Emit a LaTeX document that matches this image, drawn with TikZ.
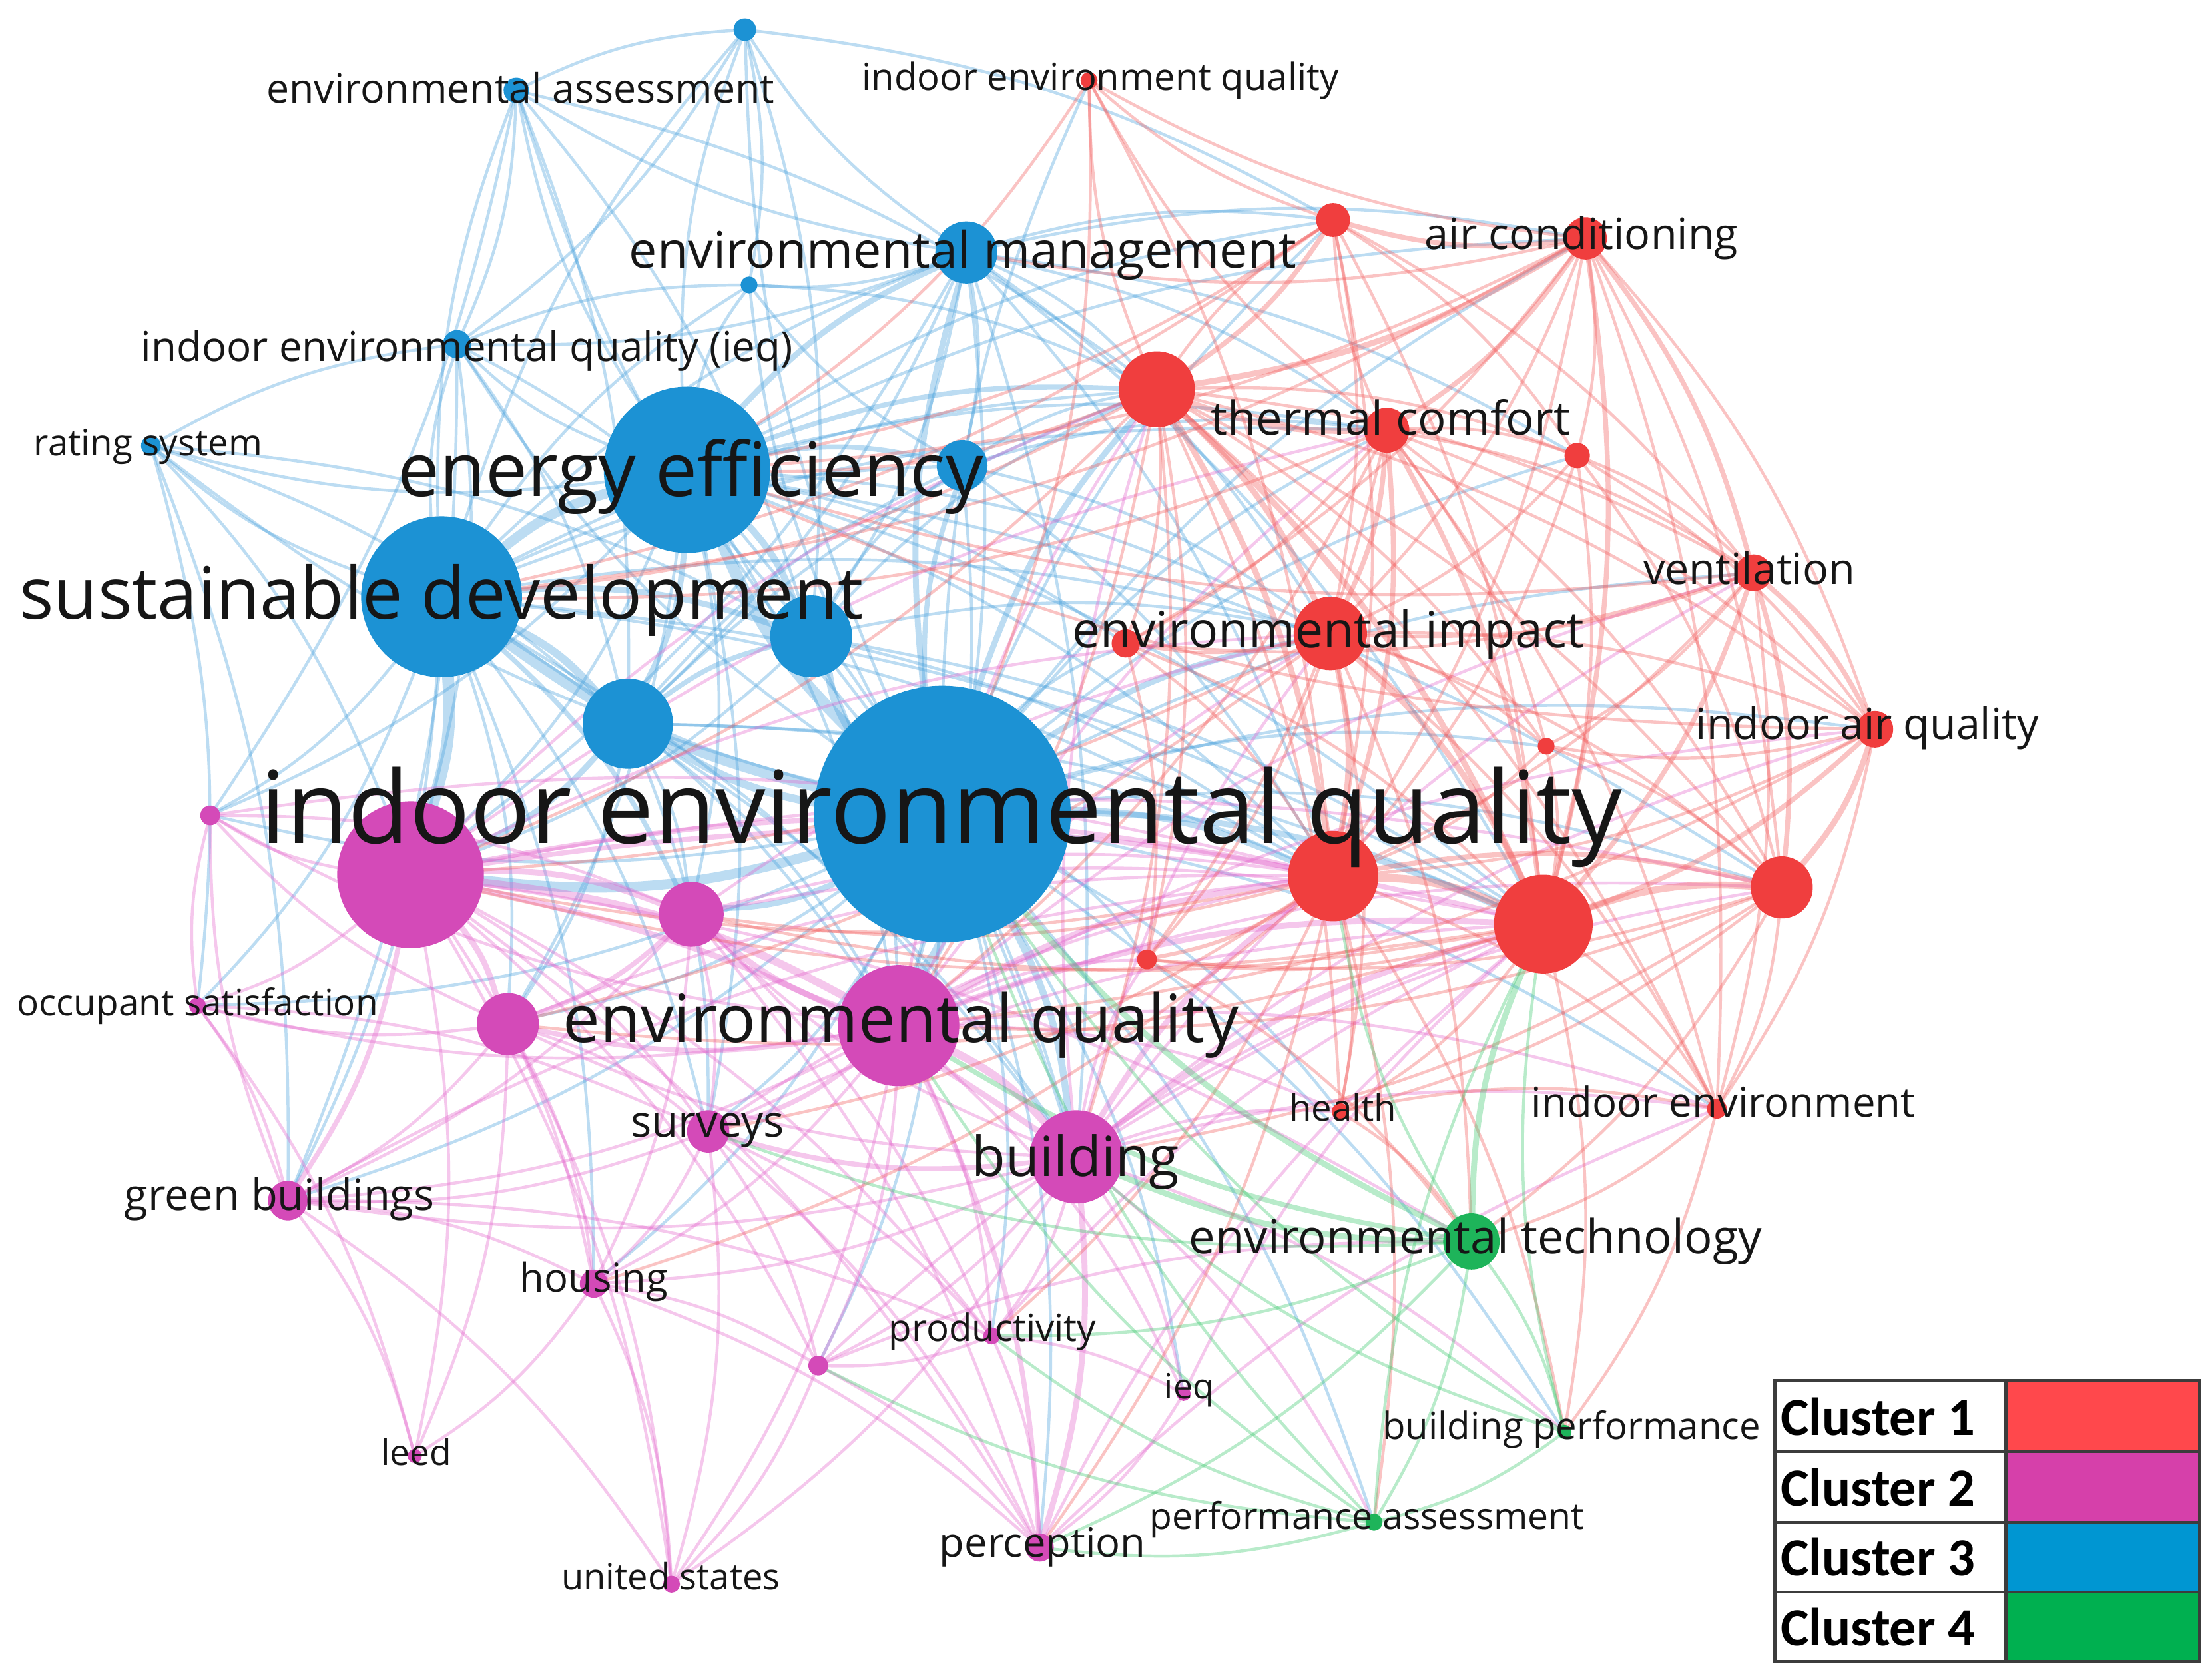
\documentclass[tikz,border=0pt]{standalone}
\usepackage{graphicx}
\usepackage{fontspec}
\setmainfont{Open Sans}
\newfontfamily\legendfont{Carlito}
\usetikzlibrary{backgrounds}
\definecolor{cred}{RGB}{240,62,62}
\definecolor{cmag}{RGB}{212,74,184}
\definecolor{cblue}{RGB}{28,146,212}
\definecolor{cgreen}{RGB}{30,180,90}
\definecolor{ered}{RGB}{242,90,90}
\definecolor{emag}{RGB}{228,100,205}
\definecolor{eblue}{RGB}{70,160,220}
\definecolor{egreen}{RGB}{60,200,110}
\definecolor{lred}{RGB}{255,72,76}
\definecolor{lmag}{RGB}{214,64,170}
\definecolor{lblue}{RGB}{0,150,210}
\definecolor{lgreen}{RGB}{0,176,80}
\definecolor{txt}{RGB}{22,22,22}
\definecolor{grid}{RGB}{60,60,60}
\begin{document}
\begin{tikzpicture}[x=1pt,y=-1pt,
  nd/.style={circle,inner sep=0pt,draw=none},
  bl/.style={nd,fill=cblue},
  rd/.style={nd,fill=cred},
  mg/.style={nd,fill=cmag},
  gr/.style={nd,fill=cgreen},
  lab/.style={anchor=base,inner sep=0pt,text=txt},
  edge/.style={draw opacity=0.36,line width=2.1pt,line cap=round,bend left=11},
  eb/.style={edge,draw=eblue},
  er/.style={edge,draw=ered},
  em/.style={edge,draw=emag},
  eg/.style={edge,draw=egreen},
  legcell/.style={draw=grid,line width=2.2pt},
  legtext/.style={anchor=base west,inner sep=0pt,font=\legendfont\bfseries\fontsize{38}{40}\selectfont}
]
\useasboundingbox (0,0) rectangle (1568,1188);

% ---------- cluster 3 (blue)
\node[bl,minimum size=182pt] (b1) at (668,577) {};
\node[bl,minimum size=114pt] (b2) at (313,423) {};
\node[bl,minimum size=118pt] (b3) at (487,333) {};
\node[bl,minimum size=44pt] (b4) at (685,179) {};
\node[bl,minimum size=18pt] (b5) at (366,64) {};
\node[bl,minimum size=16pt] (b6) at (528,21) {};
\node[bl,minimum size=20pt] (b7) at (324,244) {};
\node[bl,minimum size=12pt] (b8) at (531,202) {};
\node[bl,minimum size=14pt] (b9) at (107,316) {};
\node[bl,minimum size=64pt] (b10) at (445,513) {};
\node[bl,minimum size=58pt] (b11) at (575,451) {};
\node[bl,minimum size=36pt] (b12) at (682,330) {};
% ---------- cluster 2 (magenta)
\node[mg,minimum size=104pt] (m1) at (291,620) {};
\node[mg,minimum size=86pt] (m2) at (637,727) {};
\node[mg,minimum size=66pt] (m3) at (763,820) {};
\node[mg,minimum size=46pt] (m4) at (490,648) {};
\node[mg,minimum size=44pt] (m5) at (360,726) {};
\node[mg,minimum size=12pt] (m6) at (140,713) {};
\node[mg,minimum size=30pt] (m7) at (502,802) {};
\node[mg,minimum size=28pt] (m8) at (204,851) {};
\node[mg,minimum size=20pt] (m9) at (421,910) {};
\node[mg,minimum size=12pt] (m10) at (703,947) {};
\node[mg,minimum size=14pt] (m11) at (580,968) {};
\node[mg,minimum size=10pt] (m12) at (839,988) {};
\node[mg,minimum size=10pt] (m13) at (294,1032) {};
\node[mg,minimum size=12pt] (m14) at (476,1123) {};
\node[mg,minimum size=20pt] (m15) at (737,1097) {};
\node[mg,minimum size=14pt] (m16) at (149,578) {};
% ---------- cluster 1 (red)
\node[rd,minimum size=32pt] (r1) at (983,305) {};
\node[rd,minimum size=54pt] (r2) at (820,276) {};
\node[rd,minimum size=30pt] (r3) at (1124,169) {};
\node[rd,minimum size=24pt] (r4) at (945,156) {};
\node[rd,minimum size=12pt] (r5) at (772,57) {};
\node[rd,minimum size=18pt] (r6) at (1118,323) {};
\node[rd,minimum size=26pt] (r7) at (1243,406) {};
\node[rd,minimum size=52pt] (r8) at (943,449) {};
\node[rd,minimum size=20pt] (r9) at (798,456) {};
\node[rd,minimum size=26pt] (r10) at (1329,517) {};
\node[rd,minimum size=12pt] (r11) at (1096,529) {};
\node[rd,minimum size=64pt] (r12) at (945,621) {};
\node[rd,minimum size=70pt] (r13) at (1094,655) {};
\node[rd,minimum size=44pt] (r14) at (1263,629) {};
\node[rd,minimum size=14pt] (r15) at (813,680) {};
\node[rd,minimum size=12pt] (r16) at (950,788) {};
\node[rd,minimum size=14pt] (r17) at (1217,786) {};
% ---------- cluster 4 (green)
\node[gr,minimum size=40pt] (g1) at (1043,880) {};
\node[gr,minimum size=10pt] (g2) at (1109,1015) {};
\node[gr,minimum size=12pt] (g3) at (974,1079) {};

\begin{scope}[on background layer]
\fill[white] (0,0) rectangle (1568,1188);
% blue edges
\foreach \a/\b/\w in {b1/b2/6,b1/b3/6,b2/b3/5,b1/b10/4,b1/b11/4,b2/b10/4,b3/b11/3.5,b1/b4/3,b3/b4/3,b1/b12/2.5,b3/b12/2.5,b2/b11/3,b3/b10/3,b10/b11/2.5,b1/m1/5,b1/m2/5,b2/m1/6,b1/m3/3.5,b1/r12/3,b1/r13/3,b1/r2/3,b1/r8/3,b3/r2/2.5,b1/m4/3,b10/m1/3,b2/m4/2.5}
  \draw[eb,line width=1.4*\w pt] (\a) to (\b);
\foreach \a/\b in {b1/b5,b1/b6,b1/b7,b1/b8,b1/b9,b2/b4,b2/b5,b2/b6,b2/b7,b2/b8,b2/b9,b2/b12,b3/b5,b3/b6,b3/b7,b3/b8,b3/b9,b4/b5,b4/b6,b4/b7,b4/b8,b4/b10,b4/b11,b4/b12,b5/b6,b5/b7,b6/b7,b6/b8,b7/b8,b7/b10,b7/b11,b9/b7,b9/b10,b9/b11,b10/b12,b11/b12,b12/b8,b5/b10,b5/b11,b6/b11,
  b1/r1,b1/r3,b1/r4,b1/r5,b1/r6,b1/r7,b1/r9,b1/r10,b1/r11,b1/r14,b1/r15,b1/r16,b1/r17,b1/m5,b1/m6,b1/m7,b1/m8,b1/m9,b1/m10,b1/m11,b1/m12,b1/m15,b1/m16,b1/g2,b1/g3,
  b2/m2,b2/m3,b2/m5,b2/m6,b2/m7,b2/m8,b2/m9,b2/m16,b2/r2,b2/r8,b2/r12,b2/r13,b2/r1,
  b3/m1,b3/m2,b3/m3,b3/m4,b3/m5,b3/m7,b3/m16,b3/r1,b3/r3,b3/r4,b3/r8,b3/r12,b3/r13,b3/r14,b3/r9,
  b4/r2,b4/r3,b4/r4,b4/r1,b4/r8,b4/r12,b4/r13,b4/r6,b4/m2,b4/m3,b4/m1,
  b10/m2,b10/m4,b10/m5,b10/m7,b10/r12,b10/r13,b10/r2,b10/m3,
  b11/m2,b11/m3,b11/r2,b11/r8,b11/r12,b11/r13,b11/m1,
  b12/r2,b12/r8,b12/r12,b12/r1,b12/m2,
  b5/m16,b7/m8,b9/m6,b9/m8,b9/m1,b6/r4,b5/r2,b7/m1,b8/r2}
  \draw[eb] (\a) to (\b);
% magenta edges
\foreach \a/\b/\w in {m1/m2/4,m1/m4/3,m1/m5/3,m2/m3/4,m2/m4/3,m2/m5/2.5,m1/m3/3,m2/m7/2.5,m3/m7/2.5,m1/m8/2.5,m2/r12/3,m2/r13/3,m3/r13/3,m3/r12/3,m1/r12/2.5,m1/r13/2.5,m4/m5/2.5,m2/m15/2.5,m3/m15/3}
  \draw[em,line width=1.4*\w pt] (\a) to (\b);
\foreach \a/\b in {m1/m6,m1/m7,m1/m9,m1/m10,m1/m11,m1/m13,m1/m14,m1/m15,m1/m16,m2/m6,m2/m8,m2/m9,m2/m10,m2/m11,m2/m12,m2/m14,m2/m16,m3/m4,m3/m5,m3/m8,m3/m9,m3/m10,m3/m11,m3/m12,m3/m14,m4/m7,m4/m8,m4/m9,m4/m10,m4/m15,m5/m6,m5/m7,m5/m8,m5/m9,m5/m13,m5/m16,m5/m14,m6/m8,m6/m16,m6/m7,m6/m13,m7/m9,m7/m10,m7/m11,m7/m14,m7/m15,m7/m8,m8/m9,m8/m13,m8/m16,m8/m14,m8/m10,m9/m13,m9/m14,m9/m11,m9/m15,m10/m11,m10/m15,m10/m12,m11/m15,m11/m14,m12/m15,m16/m4,
  m1/r8,m1/r2,m1/r1,m1/r14,m2/r8,m2/r2,m2/r1,m2/r14,m2/r10,m2/r7,m2/r17,m2/r16,m2/r15,m3/r14,m3/r8,m3/r2,m3/r16,m3/r17,m3/r7,m3/r10,m3/r15,m4/r12,m4/r13,m4/r8,m7/r13,m7/r12,m15/r13,m15/r17,m10/r13,m11/g1,m11/r13,m12/r13,m5/r12,m8/r12,m3/g2,m3/g3,m1/g1,m16/r12}
  \draw[em] (\a) to (\b);
% red edges
\foreach \a/\b/\w in {r12/r13/4,r2/r12/3,r2/r8/3,r8/r12/3,r8/r13/3,r1/r2/3,r1/r8/2.5,r13/r14/3.5,r12/r14/2.5,r3/r1/2.5,r3/r2/3,r3/r13/2.5,r7/r13/2.5,r10/r13/2.5,r10/r14/3,r7/r10/2.5,r2/r13/3,r4/r2/2.5,r3/r4/2.5,r12/r15/2,r1/r13/2.5,r1/r12/2.5,r7/r14/2.5,r3/r7/2.5}
  \draw[er,line width=1.4*\w pt] (\a) to (\b);
\foreach \a/\b in {r1/r4,r1/r5,r1/r6,r1/r7,r1/r9,r1/r10,r1/r11,r1/r14,r1/r15,r1/r17,
  r2/r4,r2/r5,r2/r6,r2/r7,r2/r9,r2/r10,r2/r11,r2/r14,r2/r15,r2/r16,r2/r17,
  r3/r5,r3/r6,r3/r8,r3/r10,r3/r12,r3/r14,r3/r17,r3/r9,
  r4/r5,r4/r6,r4/r8,r4/r12,r4/r13,r4/r7,
  r5/r12,r5/b3,r5/b1,
  r6/r7,r6/r8,r6/r10,r6/r12,r6/r13,r6/r14,
  r7/r8,r7/r12,r7/r17,r7/r11,r7/r9,
  r8/r9,r8/r10,r8/r11,r8/r14,r8/r15,r8/r16,r8/r17,
  r9/r12,r9/r13,r9/r15,
  r10/r12,r10/r17,r10/r11,
  r11/r12,r11/r13,r11/r14,
  r12/r16,r12/r17,r13/r15,r13/r16,r13/r17,r14/r17,r14/r16,r16/r17,r14/r15,
  r2/m1,r2/m2,r2/m3,r2/b2,r2/b3,r12/m1,r12/m4,r12/m7,r12/m10,r12/m15,r12/m9,r13/m1,r13/m4,r13/m5,r3/b4,r3/b3,r3/b2,r4/b3,r4/b2,r1/b2,r1/m2,r8/m1,r8/m5,r14/m2,r14/m3,r7/b3,r10/m2,r10/b3,
  r12/g2,r12/g3,r13/g2,r14/g1,r17/g1,r17/g2,r8/g1,r16/g1,r15/g1}
  \draw[er] (\a) to (\b);
% green edges
\foreach \a/\b/\w in {g1/r13/3,g1/m3/3,g1/m2/2.5,g1/b1/3}
  \draw[eg,line width=1.4*\w pt] (\a) to (\b);
\foreach \a/\b in {g1/g2,g1/g3,g2/g3,g1/r12,g1/m15,g1/m10,g1/m7,g2/r13,g2/m3,g3/m11,g3/m10,g3/m15,g3/b1,g3/m2,g3/r13,g2/b1}
  \draw[eg] (\a) to (\b);
\end{scope}

% ---------- labels
\node[lab] (lb1) at (667.5,598) {\resizebox{965pt}{!}{indoor environmental quality}};
\node[lab] (lb2) at (313,438.6) {\resizebox{598pt}{!}{sustainable development}};
\node[lab] (lb3) at (489.5,352) {\resizebox{415pt}{!}{energy efficiency}};
\node[lab] (lb4) at (682.5,190) {\resizebox{473pt}{!}{environmental management}};
\node[lab] (lb5) at (369,73) {\resizebox{360pt}{!}{environmental assessment}};
\node[lab] (lb7) at (331,256) {\resizebox{462pt}{!}{indoor environmental quality (ieq)}};
\node[lab] (lb9) at (105,323) {\resizebox{162pt}{!}{rating system}};
\node[lab] (lm2) at (638.5,739) {\resizebox{479pt}{!}{environmental quality}};
\node[lab] (lm3) at (762.5,833.6) {\resizebox{147pt}{!}{building}};
\node[lab] (lm6) at (140,720) {\resizebox{256pt}{!}{occupant satisfaction}};
\node[lab] (lm7) at (501.5,806) {\resizebox{109pt}{!}{surveys}};
\node[lab] (lm8) at (198,858) {\resizebox{220pt}{!}{green buildings}};
\node[lab] (lm9) at (421,915.8) {\resizebox{105pt}{!}{housing}};
\node[lab] (lm10) at (703.5,951) {\resizebox{147pt}{!}{productivity}};
\node[lab] (lm12) at (843,991.5) {\resizebox{35pt}{!}{ieq}};
\node[lab] (lm13) at (295,1038.5) {\resizebox{50pt}{!}{leed}};
\node[lab] (lm14) at (475.5,1127) {\resizebox{155pt}{!}{united states}};
\node[lab] (lm15) at (739,1103.7) {\resizebox{146pt}{!}{perception}};
\node[lab] (lr1) at (985.7,308.5) {\resizebox{255pt}{!}{thermal comfort}};
\node[lab] (lr3) at (1121,176.6) {\resizebox{222pt}{!}{air conditioning}};
\node[lab] (lr5) at (780,64) {\resizebox{338pt}{!}{indoor environment quality}};
\node[lab] (lr7) at (1240,414) {\resizebox{150pt}{!}{ventilation}};
\node[lab] (lr8) at (941.5,459) {\resizebox{363pt}{!}{environmental impact}};
\node[lab] (lr10) at (1323.7,524) {\resizebox{243pt}{!}{indoor air quality}};
\node[lab] (lr16) at (952,794.5) {\resizebox{76pt}{!}{health}};
\node[lab] (lr17) at (1221.6,792) {\resizebox{272pt}{!}{indoor environment}};
\node[lab] (lg1) at (1046,888.4) {\resizebox{406pt}{!}{environmental technology}};
\node[lab] (lg2) at (1114,1020) {\resizebox{268pt}{!}{building performance}};
\node[lab] (lg3) at (969,1084) {\resizebox{308pt}{!}{performance assessment}};

% ---------- legend
\fill[white] (1258,978.5) rectangle (1422,1178);
\fill[lred] (1422,978.5) rectangle (1559,1029);
\fill[lmag] (1422,1029) rectangle (1559,1079);
\fill[lblue] (1422,1079) rectangle (1559,1128.5);
\fill[lgreen] (1422,1128.5) rectangle (1559,1178);
\draw[legcell] (1258,978.5) rectangle (1559,1178);
\draw[legcell] (1422,978.5) -- (1422,1178);
\draw[legcell] (1258,1029) -- (1559,1029);
\draw[legcell] (1258,1079) -- (1559,1079);
\draw[legcell] (1258,1128.5) -- (1559,1128.5);
\node[legtext] (c1) at (1262,1017.6) {Cluster 1};
\node[legtext] (c2) at (1262,1067.6) {Cluster 2};
\node[legtext] (c3) at (1262,1117) {Cluster 3};
\node[legtext] (c4) at (1262,1166.5) {Cluster 4};
\end{tikzpicture}
\end{document}
